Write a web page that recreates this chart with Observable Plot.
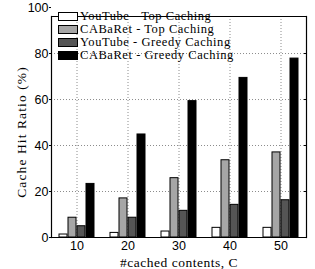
<!DOCTYPE html>
<html>
<head>
<meta charset="utf-8">
<script src="https://cdn.jsdelivr.net/npm/d3@7"></script>
<script src="https://cdn.jsdelivr.net/npm/@observablehq/plot@0.6"></script>
<style>
  html, body { margin: 0; padding: 0; background: #fff; }
  #wrap { position: relative; width: 315px; height: 269px; }
  #legend { position: absolute; left: 58px; top: 10px; font-family: "Liberation Serif", "Times New Roman", serif; font-size: 12.5px; letter-spacing: 0.55px; color: #000; }
  #legend .row { display: flex; align-items: center; height: 13px; white-space: nowrap; }
  #legend .sw { width: 20px; height: 9px; border: 1px solid #000; margin-right: 2px; box-sizing: border-box; flex: none; }
  #legend .lbl { display: inline-block; height: 13px; line-height: 13px; overflow: visible; }
</style>
</head>
<body>
<div id="wrap"><div id="legend"></div></div>
<script>
const categories = [10, 20, 30, 40, 50];
const seriesNames = ["YouTube - Top Caching", "CABaRet - Top Caching", "YouTube - Greedy Caching", "CABaRet - Greedy Caching"];
const youtubeTop = [1.3, 2.0, 2.6, 4.2, 4.2];
const cabaretTop = [8.6, 17.0, 25.8, 33.6, 37.0];
const youtubeGreedy = [4.9, 8.6, 11.6, 14.2, 16.2];
const cabaretGreedy = [23.3, 44.8, 59.3, 69.4, 77.8];
const seriesColors = ["#ffffff", "#a6a6a6", "#555555", "#000000"];
const yTicks = [0, 20, 40, 60, 80, 100];
const yLabel = "Cache Hit Ratio (%)";
const xLabel = "#cached contents, C";

const seriesValues = [youtubeTop, cabaretTop, youtubeGreedy, cabaretGreedy];
const data = [];
categories.forEach((c, i) => seriesValues.forEach((vals, s) => data.push({cat: c, series: seriesNames[s], value: vals[i]})));

const sans = "Liberation Sans, Arial, sans-serif";
const serif = "Liberation Serif, Times New Roman, serif";
const yTop = 96.1;

const chart = Plot.plot({
  width: 315, height: 269,
  marginLeft: 51, marginRight: 9, marginTop: 16, marginBottom: 32,
  style: {background: "transparent", overflow: "visible"},
  fx: {domain: categories, padding: 0, label: null},
  x: {domain: seriesNames, paddingInner: 0.14, paddingOuter: 0.74, axis: null},
  y: {domain: [0, yTop]},
  color: {domain: seriesNames, range: seriesColors},
  marks: [
    Plot.gridY(yTicks.filter(t => t <= yTop), {stroke: "#8c8c8c", strokeOpacity: 1, strokeDasharray: "1,2"}),
    Plot.gridFx({stroke: "#8c8c8c", strokeOpacity: 1, strokeDasharray: "1,2"}),
    Plot.barY(data, {fx: "cat", x: "series", y: "value", fill: "series", stroke: "#000", strokeWidth: 1}),
    Plot.ruleY([0, yTop], {stroke: "#000", strokeWidth: 1.2}),
    Plot.frame({anchor: "left", facetAnchor: "left", stroke: "#000", strokeWidth: 1.2}),
    Plot.frame({anchor: "right", facetAnchor: "right", stroke: "#000", strokeWidth: 1.2}),
    Plot.axisY(yTicks, {anchor: "left", tickSize: 2, tickPadding: 1, fontSize: 12.5, fontFamily: sans, label: null}),
    Plot.axisY(yTicks.filter(t => t <= yTop), {anchor: "right", tickSize: -3, tickFormat: () => "", label: null}),
    Plot.axisY({anchor: "left", ticks: [], label: yLabel, labelAnchor: "center", labelOffset: 35, fontSize: 13.5, fontFamily: serif, labelArrow: "none"}),
    Plot.axisFx({anchor: "bottom", tickSize: 0, tickPadding: 4, fontSize: 12.5, fontFamily: sans, label: null}),
    Plot.axisFx({anchor: "bottom", ticks: [], tickFormat: () => "", tickSize: 0, label: xLabel, labelAnchor: "center", labelOffset: 29, fontSize: 13.5, fontFamily: serif, labelArrow: "none"})
  ]
});
const wrap = document.getElementById("wrap");
wrap.insertBefore(chart, wrap.firstChild);

// Typographic tuning of the axis titles (wider, LaTeX-like spacing)
chart.querySelectorAll("text").forEach(t => {
  if (t.textContent === yLabel) {
    t.style.letterSpacing = "1.1px";
    const tr = t.getAttribute("transform") || "";
    t.setAttribute("transform", "translate(0,5) " + tr);
  } else if (t.textContent === xLabel) {
    t.style.letterSpacing = "0.5px";
  }
});

const legend = document.getElementById("legend");
seriesNames.forEach((name, i) => {
  const row = document.createElement("div");
  row.className = "row";
  const sw = document.createElement("div");
  sw.className = "sw";
  sw.style.background = seriesColors[i];
  const t = document.createElement("span");
  t.className = "lbl";
  t.textContent = name;
  row.appendChild(sw); row.appendChild(t);
  legend.appendChild(row);
});
</script>
</body>
</html>
